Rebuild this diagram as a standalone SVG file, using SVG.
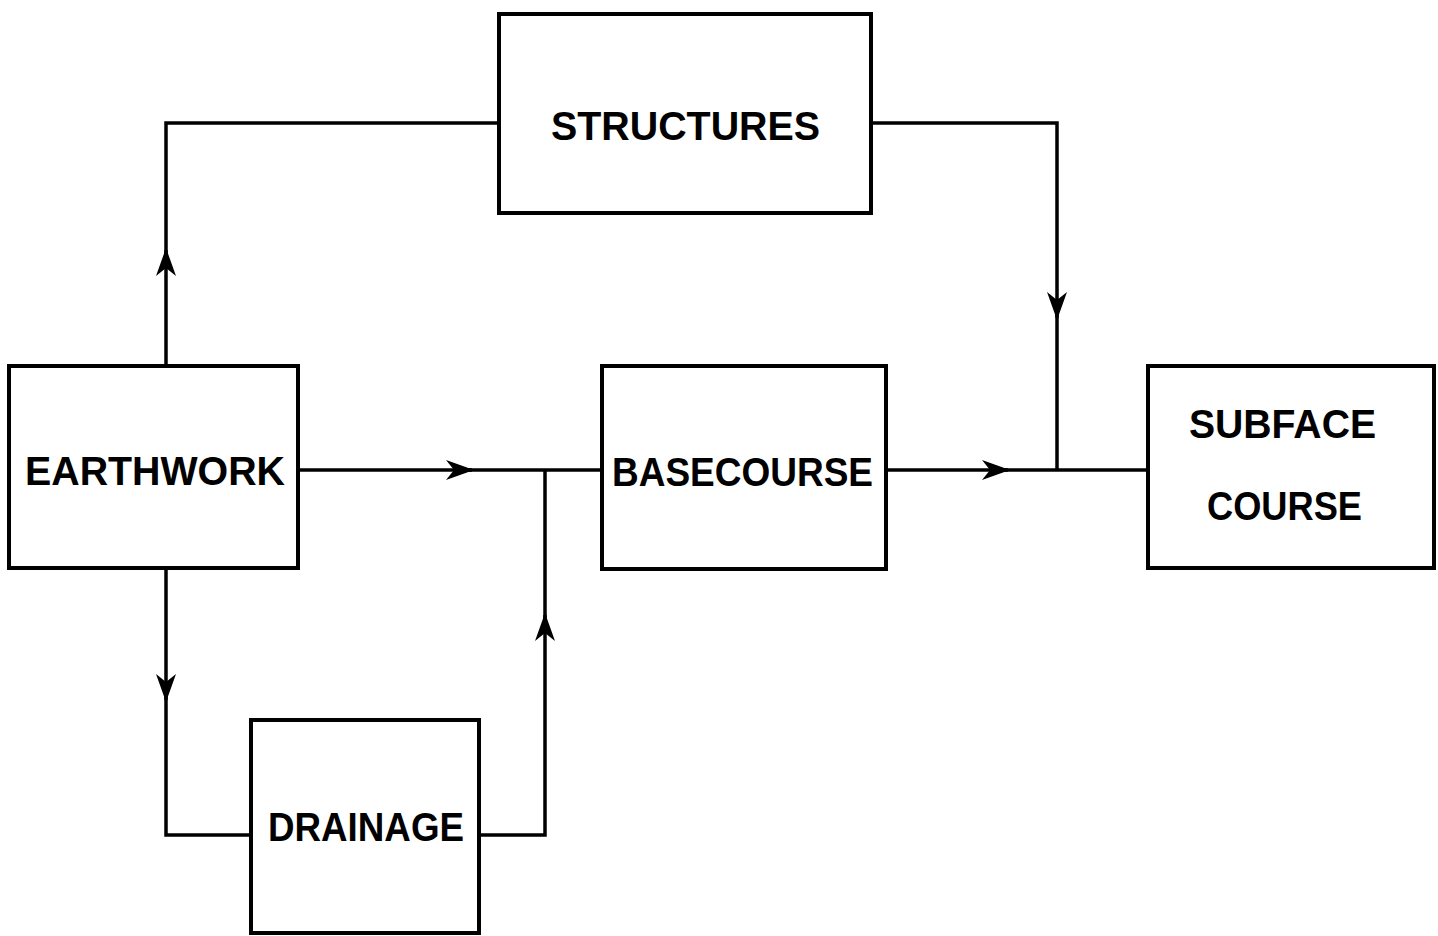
<svg xmlns="http://www.w3.org/2000/svg" width="1438" height="936" viewBox="0 0 1438 936">
<defs>
<style>
.box{fill:#fff;stroke:#000;stroke-width:4}
.ln{fill:none;stroke:#000;stroke-width:3.5}
.t{font-family:"Liberation Sans",Arial,sans-serif;font-weight:bold;font-size:40px;fill:#000}
</style>
<marker id="a" markerUnits="userSpaceOnUse" markerWidth="36" markerHeight="36" viewBox="0 0 36 36" refX="28" refY="18" orient="auto">
<path d="M2,8 L30,18 L2,28 L10,18 Z" fill="#000"/>
</marker>
</defs>
<rect width="1438" height="936" fill="#fff"/>
<g id="connectors">
<path class="ln" d="M166,366 V250" marker-end="url(#a)"/>
<path class="ln" d="M166,254 V123 H499"/>
<path class="ln" d="M871,123 H1057 V318" marker-end="url(#a)"/>
<path class="ln" d="M1057,314 V470"/>
<path class="ln" d="M298,470 H472" marker-end="url(#a)"/>
<path class="ln" d="M468,470 H602"/>
<path class="ln" d="M479,835 H545 V615" marker-end="url(#a)"/>
<path class="ln" d="M545,619 V470"/>
<path class="ln" d="M166,568 V700" marker-end="url(#a)"/>
<path class="ln" d="M166,696 V835 H251"/>
<path class="ln" d="M886,470 H1008" marker-end="url(#a)"/>
<path class="ln" d="M1004,470 H1148"/>
</g>
<g id="structures">
<rect class="box" x="499" y="14" width="372" height="199"/>
<text class="t" x="551" y="140" textLength="269" lengthAdjust="spacingAndGlyphs">STRUCTURES</text>
</g>
<g id="earthwork">
<rect class="box" x="9" y="366" width="289" height="202"/>
<text class="t" x="25" y="485" textLength="260" lengthAdjust="spacingAndGlyphs">EARTHWORK</text>
</g>
<g id="basecourse">
<rect class="box" x="602" y="366" width="284" height="203"/>
<text class="t" x="612" y="486" textLength="261" lengthAdjust="spacingAndGlyphs">BASECOURSE</text>
</g>
<g id="subface">
<rect class="box" x="1148" y="366" width="286" height="202"/>
<text class="t" x="1189" y="438" textLength="187" lengthAdjust="spacingAndGlyphs">SUBFACE</text>
<text class="t" x="1207" y="520" textLength="155" lengthAdjust="spacingAndGlyphs">COURSE</text>
</g>
<g id="drainage">
<rect class="box" x="251" y="720" width="228" height="213"/>
<text class="t" x="268" y="841" textLength="196" lengthAdjust="spacingAndGlyphs">DRAINAGE</text>
</g>
</svg>
